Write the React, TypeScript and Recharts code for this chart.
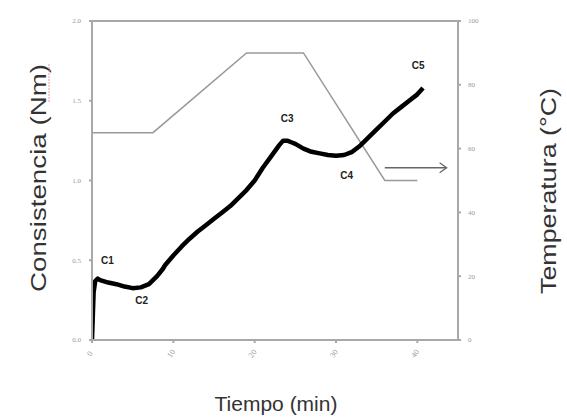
import { ComposedChart, Line, XAxis, YAxis, ReferenceDot, ReferenceLine } from 'recharts';

// consistency curve (Nm) vs time (min)
const timeMin = [0, 0.1, 0.2, 0.4, 0.7, 1, 2, 3, 4, 5, 6, 7, 8, 8.7, 9, 10, 11, 12, 13, 14, 15, 16, 17, 18, 19, 20, 21, 22, 23, 23.5, 24, 24.5, 25, 26, 27, 28, 29, 30, 31, 32, 33, 34, 35, 36, 37, 38, 39, 40, 40.7];
const consistency = [0, 0.15, 0.3, 0.37, 0.385, 0.375, 0.36, 0.35, 0.335, 0.325, 0.33, 0.35, 0.4, 0.445, 0.47, 0.53, 0.585, 0.635, 0.68, 0.72, 0.76, 0.8, 0.84, 0.89, 0.94, 1.0, 1.08, 1.15, 1.22, 1.25, 1.25, 1.24, 1.23, 1.2, 1.18, 1.17, 1.16, 1.155, 1.16, 1.18, 1.22, 1.27, 1.32, 1.37, 1.42, 1.46, 1.5, 1.54, 1.58];

// temperature program (°C)
const tempTime = [0, 7.5, 19, 26, 36, 40];
const tempC = [65, 65, 90, 90, 50, 50];

const xTicks = [0, 10, 20, 30, 40];
const leftTicks = [0, 0.5, 1, 1.5, 2];
const rightTicks = [0, 20, 40, 60, 80, 100];

const pointNames = ['C1', 'C2', 'C3', 'C4', 'C5'];
const pointTime = [1.9, 6.1, 24, 31.3, 40.1];
const pointNm = [0.5, 0.245, 1.39, 1.03, 1.72];

const consData = timeMin.map((t, i) => ({ t, v: consistency[i] }));
const tempData = tempTime.map((t, i) => ({ t, temp: tempC[i] }));

const AXIS = '#a8a8a8';
const TICK = '#999';

const XTick = ({ x, y, payload }: any) => (
  <text
    x={x}
    y={y + 10}
    transform={`rotate(-55 ${x} ${y + 10})`}
    textAnchor="middle"
    fontSize={8}
    fill={TICK}
  >
    {payload.value}
  </text>
);

const Arrow = (props: any) => {
  const { x1, y1, x2, y2 } = props;
  return (
    <g stroke="#666" strokeWidth={1.3} fill="none">
      <line x1={x1} y1={y1} x2={x2} y2={y2} />
      <polyline points={`${x2 - 7},${y2 - 5} ${x2},${y2} ${x2 - 7},${y2 + 5}`} />
    </g>
  );
};

export default function App() {
  return (
    <div style={{ position: 'absolute', left: 0, top: 0, width: 567, height: 418, background: '#fff' }}>
      <ComposedChart width={567} height={418} margin={{ top: 21, right: 0, bottom: 0, left: 0 }}>
        <XAxis
          type="number"
          dataKey="t"
          domain={[0, 45]}
          ticks={xTicks}
          allowDataOverflow
          height={78}
          stroke={AXIS}
          strokeWidth={2}
          tickSize={3}
          tick={<XTick />}
        />
        <YAxis
          yAxisId="left"
          domain={[0, 2]}
          ticks={leftTicks}
          width={92}
          stroke={AXIS}
          strokeWidth={2}
          tickSize={3}
          tickMargin={8}
          tick={{ fontSize: 7, fill: TICK }}
          tickFormatter={(v: number) => v.toFixed(1)}
        />
        <YAxis
          yAxisId="right"
          orientation="right"
          domain={[0, 100]}
          ticks={rightTicks}
          width={109}
          stroke={AXIS}
          strokeWidth={2}
          tickSize={3}
          tickMargin={7}
          tick={{ fontSize: 7, fill: TICK }}
        />
        <ReferenceLine yAxisId="left" y={2} stroke={AXIS} strokeWidth={2} />
        <Line
          yAxisId="right"
          data={tempData}
          dataKey="temp"
          type="linear"
          stroke="#999"
          strokeWidth={1.5}
          dot={false}
          isAnimationActive={false}
        />
        <Line
          yAxisId="left"
          data={consData}
          dataKey="v"
          type="linear"
          stroke="#000"
          strokeWidth={4.5}
          strokeLinejoin="round"
          dot={false}
          isAnimationActive={false}
        />
        <ReferenceLine
          yAxisId="right"
          segment={[{ x: 36, y: 54 }, { x: 43.6, y: 54 }]}
          shape={<Arrow />}
        />
        {pointNames.map((name, i) => (
          <ReferenceDot
            key={name}
            yAxisId="left"
            x={pointTime[i]}
            y={pointNm[i]}
            r={0}
            label={{ value: name, position: 'center', fontSize: 10, fontWeight: 'bold', fill: '#222', fontFamily: 'Liberation Sans, Arial, sans-serif' }}
          />
        ))}
      </ComposedChart>
      <svg width={567} height={418} style={{ position: 'absolute', left: 0, top: 0, pointerEvents: 'none' }}>
        <g fontFamily="Liberation Sans, Arial, sans-serif" fontSize={22} fill="#333">
          <text
            x={46}
            y={178}
            transform="rotate(-90 46 178)"
            textAnchor="middle"
            textLength={228}
            lengthAdjust="spacingAndGlyphs"
          >
            Consistencia (Nm)
          </text>
          <text
            x={556}
            y={191}
            transform="rotate(-90 556 191)"
            textAnchor="middle"
            textLength={206}
            lengthAdjust="spacingAndGlyphs"
          >
            Temperatura (°C)
          </text>
          <text x={276} y={411} textAnchor="middle" fontSize={21}>
            Tiempo (min)
          </text>
        </g>
        <line x1={49} y1={64} x2={49} y2={103} stroke="#e99" strokeWidth={1} strokeDasharray="2 1" />
      </svg>
    </div>
  );
}
